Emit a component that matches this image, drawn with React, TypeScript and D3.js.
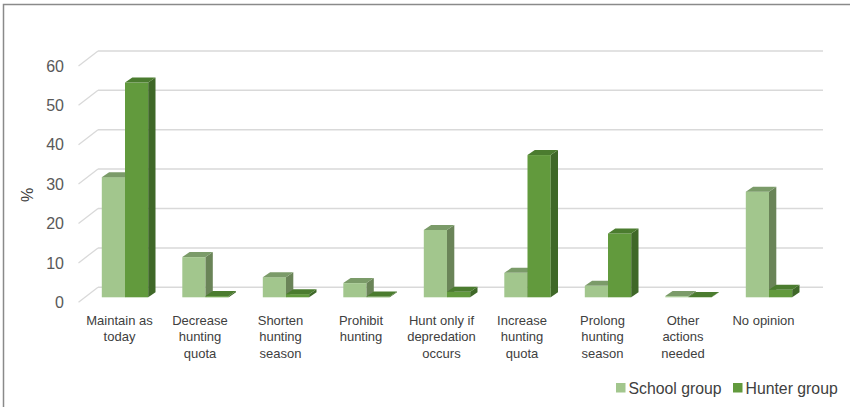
import React, { useEffect } from "react";
import * as d3 from "d3";

// Survey answers: preferred management action, share of respondents (%)
const categories: string[][] = [
  ["Maintain as", "today"],
  ["Decrease", "hunting", "quota"],
  ["Shorten", "hunting", "season"],
  ["Prohibit", "hunting"],
  ["Hunt only if", "depredation", "occurs"],
  ["Increase", "hunting", "quota"],
  ["Prolong", "hunting", "season"],
  ["Other", "actions", "needed"],
  ["No opinion"],
];
const schoolGroup = [30.5, 10.2, 5.1, 3.6, 17.1, 6.2, 2.9, 0.3, 26.8];
const hunterGroup = [54.5, 0.3, 0.8, 0.2, 1.4, 36.1, 16.2, 0.1, 1.9];
const seriesNames = ["School group", "Hunter group"];
const yTicks = [0, 10, 20, 30, 40, 50, 60];

const W = 850;
const H = 407;
const FONT = "'Liberation Sans', Arial, sans-serif";

// colours per series: front face, side face, top face
const palette = [
  { front: "#a2c68d", side: "#6a8458", top: "#7b9b69" },
  { front: "#629a3d", side: "#3f6828", top: "#4b7c2f" },
];

// oblique projection offsets
const barDepth = { dx: 7.3, dy: -5 };
const wallFront = { dx: -19.5, dy: 5 };
const wallBack = { dx: 0, dy: -10 };

export default function App() {
  useEffect(() => {
    document.body.style.margin = "0";
  }, []);

  const y = d3.scaleLinear().domain([0, 60]).range([297.3, 297.3 - 60 * 3.94]);
  const keys = categories.map((c) => c.join(" "));
  const xc = d3.scalePoint<string>().domain(keys).range([125, 769]);
  const barW = 23.2;
  const wallX0 = 98;
  const wallX1 = 823;
  const gridColor = "#d9d9d9";

  const bar = (x: number, v: number, c: (typeof palette)[number], key: string) => {
    const top = y(v);
    const base = y(0);
    const { dx, dy } = barDepth;
    return (
      <g key={key}>
        <rect x={x} y={top} width={barW} height={base - top} fill={c.front} />
        <path
          d={`M${x + barW},${top}L${x + barW + dx},${top + dy}L${x + barW + dx},${base + dy}L${x + barW},${base}Z`}
          fill={c.side}
        />
        <path
          d={`M${x},${top}L${x + dx},${top + dy}L${x + barW + dx},${top + dy}L${x + barW},${top}Z`}
          fill={c.top}
        />
      </g>
    );
  };

  return (
    <svg width={W} height={H} style={{ display: "block", background: "#fff" }}>
      {/* frame */}
      <path d={`M3.5,${H}L3.5,4.5L${W},4.5`} fill="none" stroke="#8a8a8a" strokeWidth={1.5} />

      {/* back wall gridlines and floor/side diagonals */}
      {yTicks.map((t) => {
        const yy = y(t);
        return (
          <g key={t}>
            <line
              x1={wallX0 + wallFront.dx}
              y1={yy + wallFront.dy}
              x2={wallX0 + wallBack.dx}
              y2={yy + wallBack.dy}
              stroke={gridColor}
              strokeWidth={1.3}
            />
            <line x1={wallX0} y1={yy + wallBack.dy} x2={wallX1} y2={yy + wallBack.dy} stroke={gridColor} strokeWidth={1.5} />
            <text
              x={64}
              y={yy + wallFront.dy}
              dy="0.35em"
              textAnchor="end"
              fontFamily={FONT}
              fontSize={16}
              fill="#595959"
            >
              {t}
            </text>
          </g>
        );
      })}

      <text
        transform="translate(27,195) rotate(-90)"
        textAnchor="middle"
        dy="0.35em"
        fontFamily={FONT}
        fontSize={16}
        fill="#404040"
      >
        %
      </text>

      {/* bars */}
      {keys.map((k, i) => {
        const cx = xc(k) as number;
        return (
          <g key={k}>
            {bar(cx - barW, schoolGroup[i], palette[0], "s")}
            {bar(cx, hunterGroup[i], palette[1], "h")}
          </g>
        );
      })}

      {/* category labels */}
      {categories.map((lines, i) => {
        const cx = (xc(keys[i]) as number) - 5.5;
        return (
          <text key={i} textAnchor="middle" fontFamily={FONT} fontSize={13} fill="#404040">
            {lines.map((ln, j) => (
              <tspan key={j} x={cx} y={320 + j * 16.6} dy="0.35em">
                {ln}
              </tspan>
            ))}
          </text>
        );
      })}

      {/* legend */}
      {seriesNames.map((name, i) => {
        const x0 = [616, 733][i];
        return (
          <g key={name}>
            <rect x={x0} y={383} width={9.5} height={9.5} fill={palette[i].front} />
            <text x={x0 + 12.5} y={388} dy="0.35em" fontFamily={FONT} fontSize={15.8} fill="#404040">
              {name}
            </text>
          </g>
        );
      })}
    </svg>
  );
}
